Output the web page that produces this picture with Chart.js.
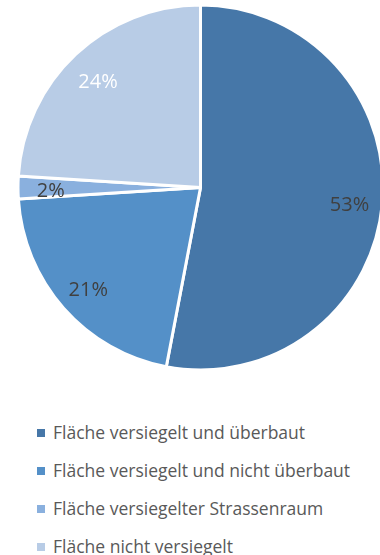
<!DOCTYPE html>
<html>
<head>
<meta charset="utf-8">
<script src="https://cdn.jsdelivr.net/npm/chart.js@4"></script>
<style>
  html, body { margin: 0; padding: 0; background: #fff; }
  body { width: 380px; height: 555px; overflow: hidden; font-family: "Open Sans", sans-serif; position: relative; }
  #wrap { position: absolute; left: 0; top: 0; width: 390px; height: 380px; }
  #legend { list-style: none; margin: 0; padding: 0; position: absolute; left: 37px; top: 419px; }
  #legend li { height: 38px; line-height: 26px; font-size: 17.5px; color: #595959; white-space: nowrap; }
  #legend span.box { display: inline-block; width: 8px; height: 8px; margin-right: 8px; vertical-align: 2px; }
</style>
</head>
<body>
<div id="wrap"><canvas id="pie" width="390" height="380"></canvas></div>
<ul id="legend"></ul>
<script>
// Land use shares (percent)
const categories = [
    "Fläche versiegelt und überbaut",
    "Fläche versiegelt und nicht überbaut",
    "Fläche versiegelter Strassenraum",
    "Fläche nicht versiegelt"
];
const shares = [53, 21, 2, 24];
const sliceColors = ["#4677A8", "#5490C8", "#8AB0DE", "#B8CCE6"];
const labelColors = ["#404040", "#404040", "#404040", "#ffffff"];

// Percent labels inside each slice
const sliceLabels = {
    id: "sliceLabels",
    afterDatasetsDraw(chart) {
        const ctx = chart.ctx;
        const meta = chart.getDatasetMeta(0);
        ctx.save();
        ctx.font = "20px 'Open Sans', sans-serif";
        ctx.textAlign = "center";
        ctx.textBaseline = "middle";
        meta.data.forEach((arc, i) => {
            const p = arc.getProps(["x", "y", "startAngle", "endAngle", "outerRadius"], true);
            const mid = (p.startAngle + p.endAngle) / 2;
            const r = p.outerRadius * 0.82;
            ctx.fillStyle = labelColors[i];
            ctx.fillText(shares[i] + "%", p.x + Math.cos(mid) * r, p.y + Math.sin(mid) * r + 4);
        });
        ctx.restore();
    }
};

const chart = new Chart(document.getElementById("pie"), {
    type: "pie",
    data: {
        labels: categories,
        datasets: [{
            data: shares,
            backgroundColor: sliceColors,
            borderColor: "#ffffff",
            borderWidth: 3,
            hoverOffset: 0
        }]
    },
    options: {
        responsive: false,
        animation: false,
        layout: { padding: { top: 3.5, left: 16.5, right: 5.5, bottom: 8.5 } },
        plugins: {
            legend: { display: false },
            tooltip: { enabled: false }
        }
    },
    plugins: [sliceLabels]
});

// Legend list built from the chart data
const legendEl = document.getElementById("legend");
chart.data.labels.forEach((label, i) => {
    const li = document.createElement("li");
    const box = document.createElement("span");
    box.className = "box";
    box.style.background = chart.data.datasets[0].backgroundColor[i];
    li.appendChild(box);
    li.appendChild(document.createTextNode(label));
    legendEl.appendChild(li);
});
</script>
</body>
</html>
